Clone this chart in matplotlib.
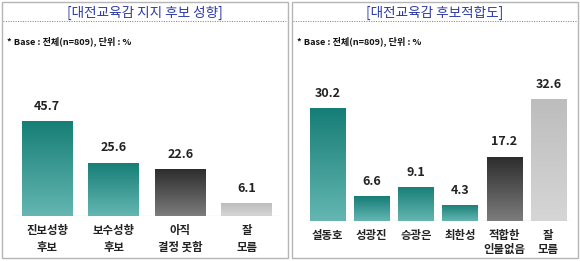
import numpy as np
import matplotlib
matplotlib.use("Agg")
import matplotlib.pyplot as plt
from matplotlib.colors import LinearSegmentedColormap
from matplotlib.patches import Rectangle
from matplotlib.lines import Line2D

plt.rcParams['font.family'] = ['Noto Sans CJK KR', 'DejaVu Sans']

left_title = "[대전교육감 지지 후보 성향]"
left_labels = ["진보성향\n후보", "보수성향\n후보", "아직\n결정 못함", "잘\n모름"]
left_values = [45.7, 25.6, 22.6, 6.1]
left_kinds = ["teal", "teal", "dark", "light"]

right_title = "[대전교육감 후보적합도]"
right_labels = ["설동호", "성광진", "승광은", "최한성", "적합한\n인물없음", "잘\n모름"]
right_values = [30.2, 6.6, 9.1, 4.3, 17.2, 32.6]
right_kinds = ["teal", "teal", "teal", "teal", "dark", "light"]

base_note = "* Base : 전체(n=809), 단위 : %"

gradients = {
    "teal": ("#64b6b1", "#167e76"),
    "dark": ("#7c7c7c", "#2c2c2c"),
    "light": ("#d6d6d6", "#bdbdbd"),
}

W, H = 580, 261
fig = plt.figure(figsize=(W / 100, H / 100), dpi=100)


def fx(px):
    return px / W


def fy(py):
    return 1 - py / H


def panel(x0, x1, title, labels, values, kinds, ax_rect, ymax, bw, label_pad, line_gap):
    # frame
    fig.patches.append(Rectangle((fx(x0), fy(258)), fx(x1 - x0), 256 / H,
                                 transform=fig.transFigure, fill=False,
                                 edgecolor="#b5b5b5", linewidth=1.0))
    fig.text(fx((x0 + x1) / 2), fy(13), title, ha="center", va="center",
             fontsize=9.8, color="#2c3aa6", fontweight="medium")
    fig.lines.append(Line2D([fx(x0 + 1), fx(x1 - 1)], [fy(21), fy(21)],
                            transform=fig.transFigure, color="#e05050",
                            linewidth=0.7, linestyle=(0, (1, 1.5))))
    fig.text(fx(x0 + 5), fy(41), base_note, ha="left", va="center",
             fontsize=6.6, fontweight="bold", color="#111111")

    ax = fig.add_axes(ax_rect)
    n = len(values)
    xs = np.arange(n)
    bars = ax.bar(xs, values, width=bw, color="none", edgecolor="none")
    for b, k in zip(bars, kinds):
        cmap = LinearSegmentedColormap.from_list(k, gradients[k])
        grad = np.linspace(0, 1, 100).reshape(-1, 1)
        im = ax.imshow(grad, cmap=cmap, origin="lower", aspect="auto",
                       extent=(b.get_x(), b.get_x() + b.get_width(), 0, b.get_height()),
                       zorder=2)
        im.set_clip_path(b)
    for x, v in zip(xs, values):
        ax.annotate(f"{v}", (x, v), xytext=(0, 6), textcoords="offset points",
                    ha="center", va="bottom", fontsize=9, fontweight="bold",
                    color="#222222")
    ax.set_xlim(-0.5, n - 0.5)
    ax.set_ylim(0, ymax)
    ax.axhline(0, color="#a0a0a0", linewidth=0.8, zorder=3)
    for s in ax.spines.values():
        s.set_visible(False)
    ax.set_xticks([])
    ax.set_yticks([])
    ax.patch.set_alpha(0)
    for x, lab in zip(xs, labels):
        ax.annotate(lab, (x, 0), xytext=(0, -label_pad), textcoords="offset points",
                    ha="center", va="top", fontsize=8.2, fontweight="bold",
                    color="#222222", linespacing=line_gap)
    return ax


# left panel: baseline y=216px, 2.08 px per unit
panel(2, 288, left_title, left_labels, left_values, left_kinds,
      [fx(14), (H - 216) / H, fx(266), 2.08 * 60 / H], 60, 0.76, 6, 1.35)
# right panel: baseline y=221px, 3.74 px per unit
panel(292, 578, right_title, right_labels, right_values, right_kinds,
      [fx(305.5), (H - 221) / H, fx(265), 3.74 * 40 / H], 40, 0.8, 6, 1.05)

fig.savefig("out.png", dpi=100)
